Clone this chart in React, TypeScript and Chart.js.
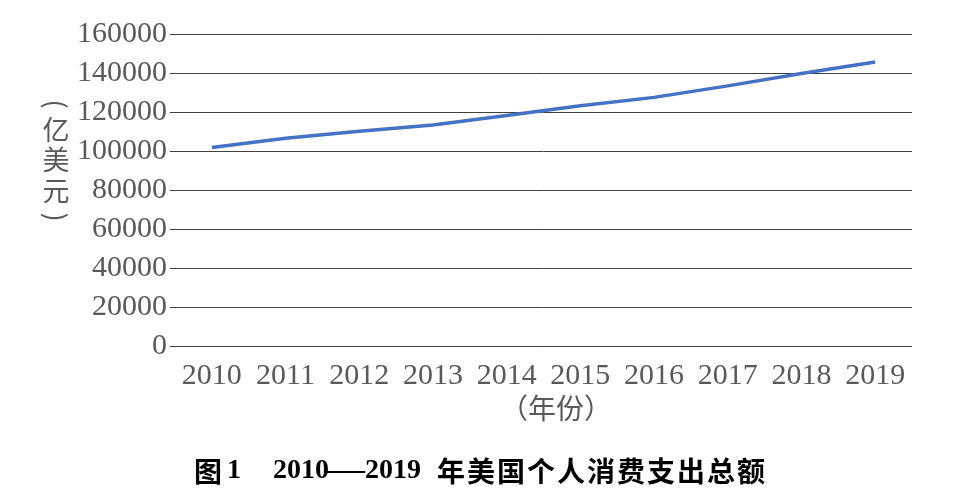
import React, { useEffect, useRef } from "react";
import { Chart, registerables } from "chart.js";

Chart.register(...registerables);

const years = ["2010", "2011", "2012", "2013", "2014", "2015", "2016", "2017", "2018", "2019"];
const spending = [101850, 106500, 110100, 113300, 118200, 123200, 127500, 133400, 139700, 145600];
const yMin = 0;
const yMax = 160000;
const yStep = 20000;
const yTitleChars = ["亿", "美", "元"];
const xTitle = "（年份）";
const titleFig = "图1";
const titleYearA = "2010";
const titleDash = "—";
const titleYearB = "2019";
const titleText = "年美国个人消费支出总额";

const labelColor = "#595959";
const gridColor = "#404040";
const lineColor = "#4472C4";
const serif = "'Liberation Serif', 'Times New Roman', serif";
const cjk = "'Noto Sans CJK SC', sans-serif";

const textPlugin = {
  id: "textPlugin",
  afterDraw(chart: any) {
    const ctx = chart.ctx;
    const area = chart.chartArea;
    ctx.save();
    ctx.fillStyle = labelColor;
    ctx.textAlign = "center";
    ctx.textBaseline = "middle";
    // vertical y-axis title
    ctx.font = `27px ${cjk}`;
    const cx = 56;
    const centers = [130, 160, 191];
    yTitleChars.forEach((c, i) => ctx.fillText(c, cx, centers[i]));
    // rotated parentheses
    ctx.save();
    ctx.translate(cx, 104);
    ctx.rotate(Math.PI / 2);
    ctx.fillText("(", 0, 0);
    ctx.restore();
    ctx.save();
    ctx.translate(cx, 217);
    ctx.rotate(Math.PI / 2);
    ctx.fillText(")", 0, 0);
    ctx.restore();

    // x-axis title
    ctx.font = `28px ${cjk}`;
    ctx.fillText(xTitle, 556, 408);

    // chart title
    ctx.fillStyle = "#000000";
    ctx.textAlign = "left";
    const ty = 471;
    ctx.font = `bold 28px 'Noto Sans CJK SC'`;
    ctx.fillText(titleFig.slice(0, 1), 194, ty);
    ctx.font = `bold 28px ${serif}`;
    ctx.fillText(titleFig.slice(1), 227, ty);
    ctx.fillText(titleYearA, 273, ty);
    ctx.save();
    const dw = ctx.measureText(titleDash).width;
    ctx.translate(325, ty);
    ctx.scale(40 / dw, 1);
    ctx.fillText(titleDash, 0, 0);
    ctx.restore();
    ctx.fillText(titleYearB, 365, ty);
    ctx.font = `bold 28px 'Noto Sans CJK SC'`;
    (ctx as any).letterSpacing = "2px";
    ctx.fillText(titleText, 437, ty);
    ctx.restore();
  },
};

export default function App() {
  const ref = useRef<HTMLCanvasElement | null>(null);
  useEffect(() => {
    if (!ref.current) return;
    const chart = new Chart(ref.current, {
      type: "line",
      data: {
        labels: years,
        datasets: [
          {
            data: spending,
            borderColor: lineColor,
            backgroundColor: lineColor,
            borderWidth: 3.5,
            pointRadius: 0,
            tension: 0,
            fill: false,
          },
        ],
      },
      options: {
        responsive: false,
        animation: false,
        layout: { padding: { top: 34, right: 61, bottom: 0, left: 0 } },
        plugins: {
          legend: { display: false },
          tooltip: { enabled: false },
          title: { display: false },
        },
        scales: {
          x: {
            offset: true,
            grid: { display: false, drawTicks: false },
            border: { display: false },
            ticks: {
              color: labelColor,
              font: { family: serif, size: 30 },
              padding: 12,
              maxRotation: 0,
              autoSkip: false,
            },
            afterFit: (s: any) => {
              s.height = 155;
            },
          },
          y: {
            min: yMin,
            max: yMax,
            grid: { color: gridColor, lineWidth: 1, tickLength: 5, drawTicks: true },
            border: { display: false },
            ticks: {
              stepSize: yStep,
              color: labelColor,
              font: { family: serif, size: 30 },
              padding: 3,
              callback: (v: any) => String(v),
            },
            afterFit: (s: any) => {
              s.width = 175;
            },
          },
        },
      },
      plugins: [textPlugin],
    });
    return () => chart.destroy();
  }, []);
  return (
    <div style={{ position: "fixed", left: 0, top: 0, width: 973, height: 501, background: "#fff" }}>
      <canvas ref={ref} width={973} height={501} style={{ display: "block" }} />
    </div>
  );
}
